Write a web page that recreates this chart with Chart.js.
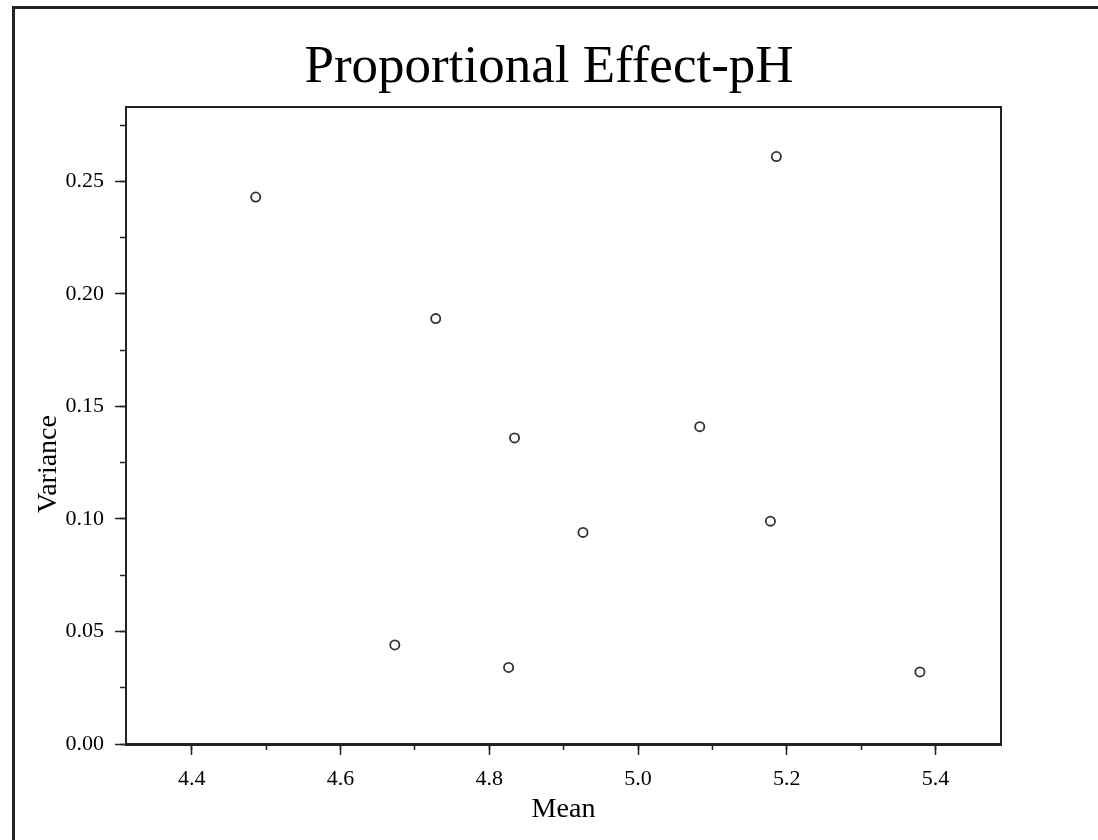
<!DOCTYPE html>
<html>
<head>
<meta charset="utf-8">
<script src="https://cdn.jsdelivr.net/npm/chart.js@4.4.1/dist/chart.umd.min.js"></script>
<style>
  html, body { margin: 0; padding: 0; background: #fff; }
  #wrap { position: relative; width: 1098px; height: 840px; overflow: hidden; }
  #frame { position: absolute; left: 12px; top: 6px; width: 1200px; height: 1000px;
           border-left: 3px solid #222; border-top: 3px solid #222; box-sizing: border-box; }
  canvas { position: absolute; left: 0; top: 0; }
</style>
</head>
<body>
<div id="wrap">
  <div id="frame"></div>
  <canvas id="peChart" width="1098" height="840"></canvas>
</div>
<script>
// Proportional effect data: mean vs variance
const means = [4.486, 4.728, 4.834, 4.673, 4.826, 4.926, 5.083, 5.178, 5.186, 5.379];
const variances = [0.243, 0.189, 0.136, 0.044, 0.034, 0.094, 0.141, 0.099, 0.261, 0.032];

const xMin = 4.3116, xMax = 5.488;
const yMin = 0, yMax = 0.283;

const serif = "'Liberation Serif', 'Times New Roman', serif";
const ink = '#222';

const points = means.map((m, i) => ({ x: m, y: variances[i] }));

// axes that only draw the plot frame on top / right
function bareAxis(position, size, extra) {
    return Object.assign({
        position: position,
        ticks: { display: false },
        grid: { drawOnChartArea: false, drawTicks: false },
        border: { display: true, color: ink, width: 2 },
        afterFit: function(scale) {
            if (scale.isHorizontal()) scale.height = size; else scale.width = size;
        }
    }, extra);
}

const ctx = document.getElementById('peChart').getContext('2d');
const peChart = new Chart(ctx, {
    type: 'scatter',
    data: {
        datasets: [{
            label: 'pH',
            data: points,
            pointRadius: 4.6,
            pointBorderWidth: 1.8,
            borderColor: '#333',
            backgroundColor: '#fff'
        }]
    },
    options: {
        responsive: false,
        animation: false,
        layout: { padding: 0 },
        plugins: {
            legend: { display: false },
            tooltip: { enabled: false },
            title: {
                display: true,
                text: 'Proportional Effect-pH',
                color: '#000',
                font: { family: serif, size: 53, weight: 'normal' },
                padding: { top: 36, bottom: 7.4 }
            }
        },
        scales: {
            x: {
                type: 'linear',
                position: 'bottom',
                weight: 1,
                min: xMin, max: xMax,
                ticks: {
                    stepSize: 0.2,
                    includeBounds: false,
                    color: '#000',
                    padding: 11,
                    maxRotation: 0,
                    font: { family: serif, size: 22 },
                    callback: v => v.toFixed(1)
                },
                grid: { drawOnChartArea: false, tickLength: 11, tickColor: ink, tickWidth: 1.5 },
                border: { color: ink, width: 3 },
                title: {
                    display: true, text: 'Mean', color: '#000',
                    font: { family: serif, size: 28 },
                    padding: { top: 0, bottom: 14 }
                },
                afterFit: function(scale) { scale.height = 96; }
            },
            xMinor: {
                type: 'linear',
                position: 'bottom',
                weight: 0,
                min: xMin, max: xMax,
                ticks: { display: false, stepSize: 0.1, includeBounds: false },
                grid: { drawOnChartArea: false, tickLength: 6, tickColor: ink, tickWidth: 1.5 },
                border: { display: false },
                afterFit: function(scale) { scale.height = 0; }
            },
            y: {
                type: 'linear',
                position: 'left',
                weight: 1,
                min: yMin, max: yMax,
                ticks: {
                    stepSize: 0.05,
                    includeBounds: false,
                    color: '#000',
                    padding: 11,
                    font: { family: serif, size: 22 },
                    callback: v => v.toFixed(2)
                },
                grid: { drawOnChartArea: false, tickLength: 11, tickColor: ink, tickWidth: 1.5 },
                border: { color: ink, width: 2 },
                title: {
                    display: true,
                    // trailing no-break spaces push the label below centre, as in the original
                    text: 'Variance\u00a0\u00a0\u00a0\u00a0\u00a0\u00a0\u00a0\u00a0\u00a0\u00a0\u00a0',
                    color: '#000',
                    font: { family: serif, size: 28 },
                    padding: { top: 32, bottom: 0 }
                },
                afterFit: function(scale) { scale.width = 126; }
            },
            yMinor: {
                type: 'linear',
                position: 'left',
                weight: 0,
                min: yMin, max: yMax,
                ticks: { display: false, stepSize: 0.025, includeBounds: false },
                grid: { drawOnChartArea: false, tickLength: 6, tickColor: ink, tickWidth: 1.5 },
                border: { display: false },
                afterFit: function(scale) { scale.width = 0; }
            },
            xTop: bareAxis('top', 0, { type: 'linear', min: xMin, max: xMax }),
            yRight: bareAxis('right', 97, { type: 'linear', min: yMin, max: yMax })
        }
    }
});
</script>
</body>
</html>
